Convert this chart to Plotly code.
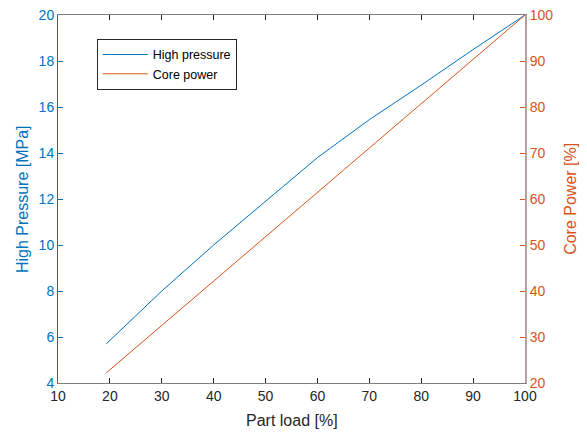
import plotly.graph_objects as go

part_load = [19.3, 30, 40, 50, 60, 70, 80, 90, 100]
high_pressure = [5.7, 8.0, 10.0, 11.9, 13.8, 15.45, 16.95, 18.5, 20.0]
core_power = [22.2, 32.5, 42.2, 51.8, 61.5, 71.1, 80.8, 90.4, 100.0]

blue = "#0072BD"
orange = "#D95319"
dark = "#262626"
font = "Liberation Sans, Arial, sans-serif"

fig = go.Figure()
fig.add_trace(go.Scatter(x=part_load, y=high_pressure, mode="lines", name="High pressure",
                         line=dict(color=blue, width=1), yaxis="y"))
fig.add_trace(go.Scatter(x=part_load, y=core_power, mode="lines", name="Core power",
                         line=dict(color=orange, width=1), yaxis="y2"))

fig.update_layout(
    width=587, height=432,
    margin=dict(l=50, r=70, t=7, b=57, autoexpand=False),
    paper_bgcolor="white", plot_bgcolor="white",
    font=dict(family=font, size=14, color=dark),
    showlegend=True,
    legend=dict(x=0.083, y=0.935, xanchor="left", yanchor="top",
                bordercolor="#262626", borderwidth=1, bgcolor="white",
                itemwidth=45,
                font=dict(size=12.5, color="black"), tracegroupgap=0),
    xaxis=dict(range=[10, 100], tickvals=[10, 20, 30, 40, 50, 60, 70, 80, 90, 100],
               automargin=False, ticklabeloverflow="allow",
               showgrid=False, zeroline=False, showline=True, linecolor="#808080", linewidth=1,
               mirror="ticks", ticks="inside", ticklen=5, tickcolor=dark,
               tickfont=dict(size=14, color=dark)),
    yaxis=dict(range=[4, 20], tickvals=[4, 6, 8, 10, 12, 14, 16, 18, 20],
               automargin=False, ticklabeloverflow="allow",
               showgrid=False, zeroline=False, showline=True, linecolor=blue, linewidth=1,
               ticks="inside", ticklen=5, tickcolor=blue,
               tickfont=dict(size=14, color=blue)),
    yaxis2=dict(range=[20, 100], tickvals=[20, 30, 40, 50, 60, 70, 80, 90, 100],
                overlaying="y", side="right", automargin=False, ticklabeloverflow="allow",
                showgrid=False, zeroline=False, showline=True, linecolor="#b8a098", linewidth=2,
                ticks="inside", ticklen=5, tickcolor=orange,
                tickfont=dict(size=14, color=orange)),
    annotations=[
        dict(text="Part load [%]", xref="paper", yref="paper", x=0.501, y=-0.103,
             xanchor="center", yanchor="middle", showarrow=False,
             font=dict(size=16, color=dark)),
        dict(text="High Pressure [MPa]", xref="paper", yref="paper", x=-0.077, y=0.5,
             xanchor="center", yanchor="middle", showarrow=False, textangle=-90,
             font=dict(size=16, color=blue)),
        dict(text="Core Power [%]", xref="paper", yref="paper", x=1.096, y=0.5,
             xanchor="center", yanchor="middle", showarrow=False, textangle=-90,
             font=dict(size=16, color=orange)),
    ],
)

fig.write_html("out.html")
